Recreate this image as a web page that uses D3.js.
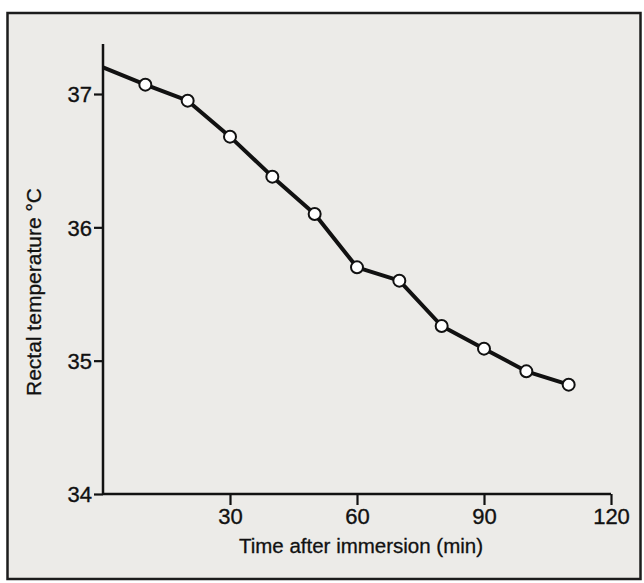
<!DOCTYPE html>
<html>
<head>
<meta charset="utf-8">
<script src="https://cdn.jsdelivr.net/npm/d3@7"></script>
<style>
  body { margin: 0; background: #fff; }
  svg { display: block; font-family: "Liberation Sans", Arial, sans-serif; }
</style>
</head>
<body>
<svg id="chart" width="644" height="583"></svg>
<script>
// data
var minutes = [0, 10, 20, 30, 40, 50, 60, 70, 80, 90, 100, 110];
var rectalTemp = [37.20, 37.07, 36.95, 36.68, 36.38, 36.10, 35.70, 35.60, 35.26, 35.09, 34.92, 34.82];
var xTicks = [30, 60, 90, 120];
var yTicks = [34, 35, 36, 37];

var svg = d3.select('#chart'),
    WIDTH = 644, HEIGHT = 583,
    AX = { left: 103, right: 611, top: 44, bottom: 494 };

var xScale = d3.scaleLinear().domain([0, 120]).range([AX.left, AX.right]),
    yScale = d3.scaleLinear().domain([34, 37]).range([AX.bottom, 94]);

// paper + frame
svg.append('rect')
   .attr('x', 7.5).attr('y', 13)
   .attr('width', 633).attr('height', 566)
   .attr('fill', '#ecebe8')
   .attr('stroke', '#1c1c1c')
   .attr('stroke-width', 2.5);

var xAxis = d3.axisBottom(xScale).tickValues(xTicks).tickFormat(d3.format('d'))
              .tickSize(11).tickPadding(3).tickSizeOuter(0),
    yAxis = d3.axisLeft(yScale).tickValues(yTicks).tickFormat(d3.format('d'))
              .tickSize(9).tickPadding(2).tickSizeOuter(0);

var gx = svg.append('g')
   .attr('transform', 'translate(0,' + AX.bottom + ')')
   .call(xAxis);

var gy = svg.append('g')
   .attr('transform', 'translate(' + AX.left + ',0)')
   .call(yAxis);

// y axis runs above the top tick, x axis from the origin to 120
gy.select('.domain').attr('d', 'M0,' + AX.top + 'V' + AX.bottom);
gx.select('.domain').attr('d', 'M' + AX.left + ',0H' + AX.right);

[gx, gy].forEach(function(g) {
    g.attr('font-size', 22).attr('font-family', '"Liberation Sans", Arial, sans-serif');
    g.selectAll('.domain').attr('stroke', '#111').attr('stroke-width', 2.5);
    g.selectAll('.tick line').attr('stroke', '#111').attr('stroke-width', 2.2);
    g.selectAll('.tick text').attr('fill', '#111')
     .attr('stroke', '#111').attr('stroke-width', 0.35);
});
gy.selectAll('.tick text').attr('dy', '0.36em');

// axis titles
svg.append('text')
   .attr('x', 361).attr('y', 553)
   .attr('text-anchor', 'middle')
   .attr('font-size', 20.5)
   .attr('fill', '#111')
   .attr('stroke', '#111').attr('stroke-width', 0.3)
   .text('Time after immersion (min)');

svg.append('text')
   .attr('transform', 'translate(41,292) rotate(-90)')
   .attr('text-anchor', 'middle')
   .attr('font-size', 21)
   .attr('fill', '#111')
   .attr('stroke', '#111').attr('stroke-width', 0.3)
   .text('Rectal temperature  \u00B0C');

var data = minutes.map(function(m, i) { return { t: m, v: rectalTemp[i] }; });

var lineGen = d3.line()
    .x(function(d) { return xScale(d.t); })
    .y(function(d) { return yScale(d.v); });

svg.append('path')
   .attr('d', lineGen(data))
   .attr('stroke', '#111')
   .attr('stroke-width', 4)
   .attr('stroke-linejoin', 'round')
   .attr('fill', 'none');

// first reading has no marker
svg.selectAll('.point')
   .data(data.slice(1))
   .enter().append('circle')
   .attr('class', 'point')
   .attr('r', 6)
   .attr('cx', function(d) { return xScale(d.t); })
   .attr('cy', function(d) { return yScale(d.v); })
   .attr('fill', '#fff')
   .attr('stroke', '#111')
   .attr('stroke-width', 2);
</script>
</body>
</html>
